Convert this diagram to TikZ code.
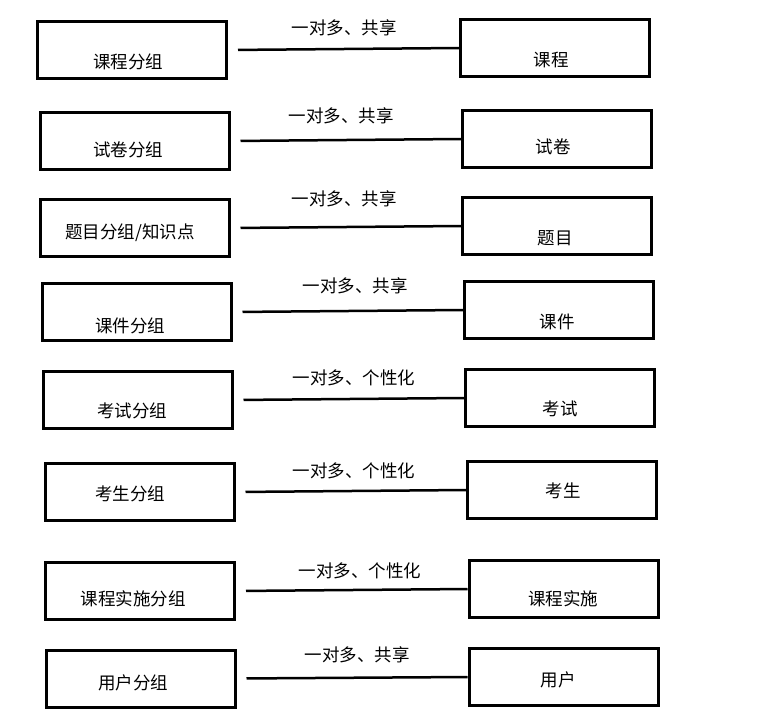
\documentclass[tikz,border=0pt]{standalone}
\usepackage{fontspec}
\setmainfont{Noto Sans CJK SC}
\usetikzlibrary{calc}
\begin{document}
\begin{tikzpicture}[%
        x=1pt,y=-1pt,%
        every node/.style={font=\fontsize{17.5}{20}\selectfont},%
        group/.style={%
            rectangle,%
            minimum width=189,%
            minimum height=57,%
            line width=3pt,%
            draw=black%
        },%
        item/.style={%
            rectangle,%
            minimum width=189,%
            minimum height=57,%
            line width=3pt,%
            draw=black%
        },%
        tag/.style={inner sep=0pt},%
        link/.style={%
            line width=2.5pt,%
            draw=black,%
            shorten <=10pt%
        }%
    ]
    \useasboundingbox (0,0) rectangle (774,716);
    % groups, left
    \node (kcfz) at (132  ,50   ) [group]{};
    \node (sjfz) at (134.5,141  ) [group]{};
    \node (tmfz) at (134.5,228  ) [group]{};
    \node (kjfz) at (136.5,312  ) [group]{};
    \node (ksfz) at (137.5,400  ) [group]{};
    \node (kofz) at (139.5,492  ) [group]{};
    \node (ssfz) at (140  ,591  ) [group]{};
    \node (yhfz) at (140.5,678.5) [group]{};
    % items, right
    \node (kc) at (555  ,48 ) [item]{};
    \node (sj) at (557  ,139) [item]{};
    \node (tm) at (557  ,226) [item]{};
    \node (kj) at (559  ,310) [item]{};
    \node (ks) at (560  ,398) [item]{};
    \node (ko) at (562  ,490) [item]{};
    \node (ss) at (563.5,589) [item]{};
    \node (yh) at (563.5,677) [item]{};
    % texts
    \node (kcfzt) at (128,62 ) [tag]{课程分组};
    \node (sjfzt) at (128,150) [tag]{试卷分组};
    \node (tmfzt) at (130,233) [tag]{题目分组/知识点};
    \node (kjfzt) at (130,326) [tag]{课件分组};
    \node (ksfzt) at (132,411) [tag]{考试分组};
    \node (kofzt) at (130,494) [tag]{考生分组};
    \node (ssfzt) at (133,599) [tag]{课程实施分组};
    \node (yhfzt) at (133,683) [tag]{用户分组};
    \node (kct) at (551,60 ) [tag]{课程};
    \node (sjt) at (553,147) [tag]{试卷};
    \node (tmt) at (555,238) [tag]{题目};
    \node (kjt) at (557,322) [tag]{课件};
    \node (kst) at (560,409) [tag]{考试};
    \node (kot) at (563,491) [tag]{考生};
    \node (sst) at (563,599) [tag]{课程实施};
    \node (yht) at (558,680) [tag]{用户};
    % relations
    \node (r1) at (344,28 ) [tag]{一对多、共享};
    \node (r2) at (341,116) [tag]{一对多、共享};
    \node (r3) at (344,199) [tag]{一对多、共享};
    \node (r4) at (355,286) [tag]{一对多、共享};
    \node (r5) at (354,378) [tag]{一对多、个性化};
    \node (r6) at (354,471) [tag]{一对多、个性化};
    \node (r7) at (360,571) [tag]{一对多、个性化};
    \node (r8) at (357,655) [tag]{一对多、共享};
    \draw [link] (kcfz.east) -- (kc.west);
    \draw [link] (sjfz.east) -- (sj.west);
    \draw [link] (tmfz.east) -- (tm.west);
    \draw [link] (kjfz.east) -- (kj.west);
    \draw [link] (ksfz.east) -- (ks.west);
    \draw [link] (kofz.east) -- (ko.west);
    \draw [link] (ssfz.east) -- (ss.west);
    \draw [link] (yhfz.east) -- (yh.west);
    \end{tikzpicture}
\end{document}
